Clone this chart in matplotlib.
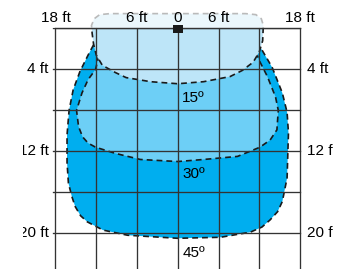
import matplotlib.pyplot as plt
from matplotlib.patches import Rectangle

plt.rcParams['font.family'] = ['Liberation Sans', 'DejaVu Sans']

# beam outlines (x in ft across, y in ft down from the fixture)
beam45_x = [-12.4, -13.2, -14.4, -15.4, -16.0, -16.3, -16.3, -16.1, -15.6, -15.1, -14.3, -13.3, -11.0, -7.4, 0.0,
            6.3, 10.7, 12.4, 13.6, 14.7, 15.4, 16.1, 16.3, 16.1, 15.4, 13.9, 12.4, 11.0, -11.0]
beam45_y = [1.6, 2.6, 4.2, 6.0, 8.0, 10.4, 13.1, 15.1, 16.4, 17.4, 18.3, 18.9, 19.7, 20.2, 20.5,
            20.4, 19.9, 19.4, 18.7, 17.9, 16.9, 14.6, 10.2, 8.2, 6.3, 3.8, 2.1, 0.5, 0.5]

beam30_x = [-11.6, -12.1, -13.2, -14.1, -14.9, -14.6, -14.0, -13.2, -12.1, -9.2, -5.5, 0.0,
            3.8, 8.8, 12.1, 13.6, 14.6, 14.8, 14.4, 13.2, 11.9, 11.5, -11.0]
beam30_y = [2.6, 4.0, 5.0, 6.3, 8.0, 9.6, 10.6, 11.2, 11.6, 12.2, 12.8, 13.0,
            12.8, 12.5, 11.6, 10.9, 9.9, 8.0, 6.7, 4.7, 3.0, 2.2, 2.2]

beam15_x = [0.0, -10.0, -11.5, -12.3, -12.7, -12.6, -12.4, -12.0, -11.1, -9.2, -7.6, -4.0, 0.0,
            3.8, 7.7, 9.5, 11.1, 12.0, 12.5, 12.6, 12.3, 11.5, 10.0]
beam15_y = [-1.45, -1.45, -1.35, -0.95, -0.3, 0.5, 1.5, 2.6, 3.6, 4.3, 4.8, 5.2, 5.4,
            5.2, 4.7, 4.1, 3.3, 2.3, 1.2, -0.3, -0.95, -1.35, -1.45]

beam_labels = ['15º', '30º', '45º']
beam_label_y = [6.8, 14.2, 21.9]

grid_x = [-18, -12, -6, 0, 6, 12, 18]
grid_y = [0, 4, 8, 12, 16, 20]
top_ticks = [-18, -6, 0, 6, 18]
top_labels = ['18 ft', '6 ft', '0', '6 ft', '18 ft']
side_ticks = [4, 12, 20]
side_labels = ['4 ft', '12 ft', '20 ft']

fig = plt.figure(figsize=(3.4, 2.69), dpi=100)
ax = fig.add_axes([48.7 / 340, 0, 258.1 / 340, 1 - 8 / 269])
ax.set_xlim(-19, 19)
ax.set_ylim(23.5, -2)
ax.axis('off')

dash = (0, (3.5, 2.4))
ax.fill(beam45_x, beam45_y, facecolor='#00aeef', edgecolor='#1a1a1a', linestyle=dash, linewidth=1.2, zorder=1)
ax.fill(beam30_x, beam30_y, facecolor='#6dcff6', edgecolor='#1a1a1a', linestyle=dash, linewidth=1.2, zorder=2)
ax.fill(beam15_x, beam15_y, facecolor='#bde5f8', edgecolor='#1a1a1a', linestyle=dash, linewidth=1.2, zorder=3)

for gx in grid_x:
    ax.plot([gx, gx], [0, 23.5], color='#333333', lw=0.95, zorder=4, clip_on=False)
for gy in grid_y:
    ax.plot([-18.3, 18], [gy, gy], color='#333333', lw=0.95, zorder=4, clip_on=False)

# faded part above the fixture line
ax.add_patch(Rectangle((-19, -2), 38, 2, facecolor='white', alpha=0.7, edgecolor='none', zorder=5))
ax.plot([-18, 18], [0, 0], color='#333333', lw=0.95, zorder=6)
ax.add_patch(Rectangle((-0.7, -0.3), 1.45, 0.72, facecolor='#1a1a1a', edgecolor='none', zorder=7))

for t, lab in zip(top_ticks, top_labels):
    ax.text(t, -1.05, lab, ha='center', va='center', fontsize=11, zorder=8)
for t, lab in zip(side_ticks, side_labels):
    ax.text(-19.0, t, lab, ha='right', va='center', fontsize=11, clip_on=False)
    ax.text(19.0, t, lab, ha='left', va='center', fontsize=11, clip_on=False)
for lab, y in zip(beam_labels, beam_label_y):
    ax.text(0.66, y, lab, ha='left', va='center', fontsize=11, zorder=8)

# the source image is cropped at both sides
fig.patches.append(Rectangle((0, 0), 23.3 / 340, 1, transform=fig.transFigure, facecolor='white', edgecolor='none', zorder=10))
fig.patches.append(Rectangle((332.5 / 340, 0), 7.5 / 340, 1, transform=fig.transFigure, facecolor='white', edgecolor='none', zorder=10))

fig.savefig('out.png', dpi=100)
